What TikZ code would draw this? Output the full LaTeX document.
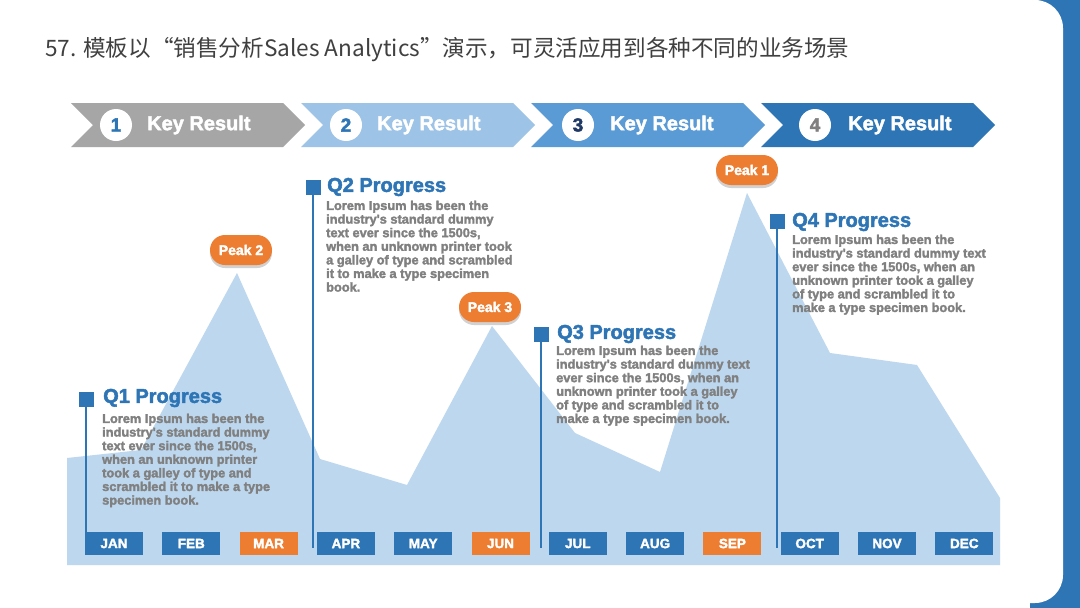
\documentclass[tikz,border=0pt]{standalone}
\usepackage{fontspec}
\setmainfont{Liberation Sans}
\newfontfamily\cjk{Noto Sans CJK SC}
\newfontfamily\heavy[BoldFeatures={FakeBold=2.2}]{Liberation Sans}
\usetikzlibrary{shadows}
\definecolor{cgray}{HTML}{A6A6A6}
\definecolor{clight}{HTML}{9DC3E6}
\definecolor{cmid}{HTML}{5B9BD5}
\definecolor{mblue}{HTML}{2E75B6}
\definecolor{navy}{HTML}{1F3864}
\definecolor{mtn}{HTML}{BDD7EE}
\definecolor{corange}{HTML}{ED7D31}
\definecolor{bodygray}{HTML}{808080}
\definecolor{titlegray}{HTML}{404040}
\begin{document}
\begin{tikzpicture}[x=1pt,y=-1pt,
  numcirc/.style={circle, fill=white, minimum size=32pt, inner sep=0pt, font=\heavy\bfseries\fontsize{19}{19}\selectfont},
  krtext/.style={anchor=west, text=white, inner sep=0pt, font=\heavy\bfseries\fontsize{20}{20}\selectfont},
  monthbox/.style={fill=mblue, minimum width=58pt, minimum height=23pt, inner sep=0pt, text=white, font=\heavy\bfseries\fontsize{13.5}{13.5}\selectfont},
  peakbox/.style={fill=corange, rounded corners=15pt, minimum width=62pt, minimum height=30pt, inner sep=0pt, text=white, font=\heavy\bfseries\fontsize{14}{14}\selectfont, drop shadow={shadow xshift=0pt, shadow yshift=-3pt, opacity=0.18, fill=black}},
  qtitle/.style={anchor=west, text=mblue, inner sep=0pt, font=\heavy\bfseries\fontsize{20}{20}\selectfont},
  qbody/.style={anchor=north west, align=left, text=bodygray, inner sep=0pt, font=\heavy\bfseries\fontsize{12.8}{13.6}\selectfont},
  qsq/.style={fill=mblue, minimum size=15pt, inner sep=0pt},
  qline/.style={draw=mblue, line width=2pt}]
\useasboundingbox (0,0) rectangle (1080,608);
\fill[white] (0,0) rectangle (1080,608);
% right blue strip
\fill[mblue] (1030,0) rectangle (1080,608);
\fill[white, rounded corners=28pt] (900,0) -- (1063,0) -- (1063,603) -- (900,603) -- cycle;
% title
\node[anchor=west, inner sep=0pt, text=titlegray, font=\cjk\fontsize{22.6}{23}\selectfont] (title) at (45,50) {57. 模板以“销售分析Sales Analytics”演示，可灵活应用到各种不同的业务场景};
% chevrons
\fill[cgray] (71,103) -- (283,103) -- (305,125) -- (283,147) -- (71,147) -- (93,125) -- cycle;
\fill[clight] (301,103) -- (513,103) -- (535,125) -- (513,147) -- (301,147) -- (323,125) -- cycle;
\fill[cmid] (531,103) -- (743,103) -- (765,125) -- (743,147) -- (531,147) -- (553,125) -- cycle;
\fill[mblue] (761,103) -- (973,103) -- (995,125) -- (973,147) -- (761,147) -- (783,125) -- cycle;
\node[numcirc, text=mblue] (n1) at (116,125) {1};
\node[numcirc, text=mblue] (n2) at (346,125) {2};
\node[numcirc, text=navy] (n3) at (578,125) {3};
\node[numcirc, text=bodygray] (n4) at (815,125) {4};
\node[krtext] (k1) at (147,125) {Key Result};
\node[krtext] (k2) at (377,125) {Key Result};
\node[krtext] (k3) at (610,125) {Key Result};
\node[krtext] (k4) at (848,125) {Key Result};
% mountain
\fill[mtn] (67,458) -- (141,450) -- (237,273) -- (320,459) -- (407,485) -- (492,326) -- (575,433) -- (660,472) -- (747,193) -- (830,353) -- (917,365) -- (1000,498) -- (1000,565) -- (67,565) -- cycle;
% months
\foreach \m/\c [count=\i from 0] in {JAN/mblue,FEB/mblue,MAR/corange,APR/mblue,MAY/mblue,JUN/corange,JUL/mblue,AUG/mblue,SEP/corange,OCT/mblue,NOV/mblue,DEC/mblue}
  \node[monthbox, fill=\c] (m\i) at ({114+77.3*\i},543.5) {\m};
% quarter markers
\coordinate (e1) at (86,533);
\coordinate (e2) at (313,548);
\coordinate (e3) at (541,548);
\coordinate (e4) at (777,548);
\node[qsq] (s1) at (86,399) {};
\node[qsq] (s2) at (313,187) {};
\node[qsq] (s3) at (541,334) {};
\node[qsq] (s4) at (777,221) {};
\draw[qline] (s1.center) -- (e1);
\draw[qline] (s2.center) -- (e2);
\draw[qline] (s3.center) -- (e3);
\draw[qline] (s4.center) -- (e4);
\node[qtitle] (t1) at (103,398) {Q1 Progress};
\node[qtitle] (t2) at (327,187) {Q2 Progress};
\node[qtitle] (t3) at (557,334) {Q3 Progress};
\node[qtitle] (t4) at (792,222) {Q4 Progress};
\node[qbody] (b1) at (102,413.5) {Lorem Ipsum has been the\\industry's standard dummy\\text ever since the 1500s,\\when an unknown printer\\took a galley of type and\\scrambled it to make a type\\specimen book.};
\node[qbody] (b2) at (326,200.5) {Lorem Ipsum has been the\\industry's standard dummy\\text ever since the 1500s,\\when an unknown printer took\\a galley of type and scrambled\\it to make a type specimen\\book.};
\node[qbody] (b3) at (556,345.5) {Lorem Ipsum has been the\\industry's standard dummy text\\ever since the 1500s, when an\\unknown printer took a galley\\of type and scrambled it to\\make a type specimen book.};
\node[qbody] (b4) at (792,234.5) {Lorem Ipsum has been the\\industry's standard dummy text\\ever since the 1500s, when an\\unknown printer took a galley\\of type and scrambled it to\\make a type specimen book.};
% peaks
\node[peakbox] (p2) at (241,250) {Peak 2};
\node[peakbox] (p3) at (490,307) {Peak 3};
\node[peakbox] (p1) at (747,170) {Peak 1};
\end{tikzpicture}
\end{document}
